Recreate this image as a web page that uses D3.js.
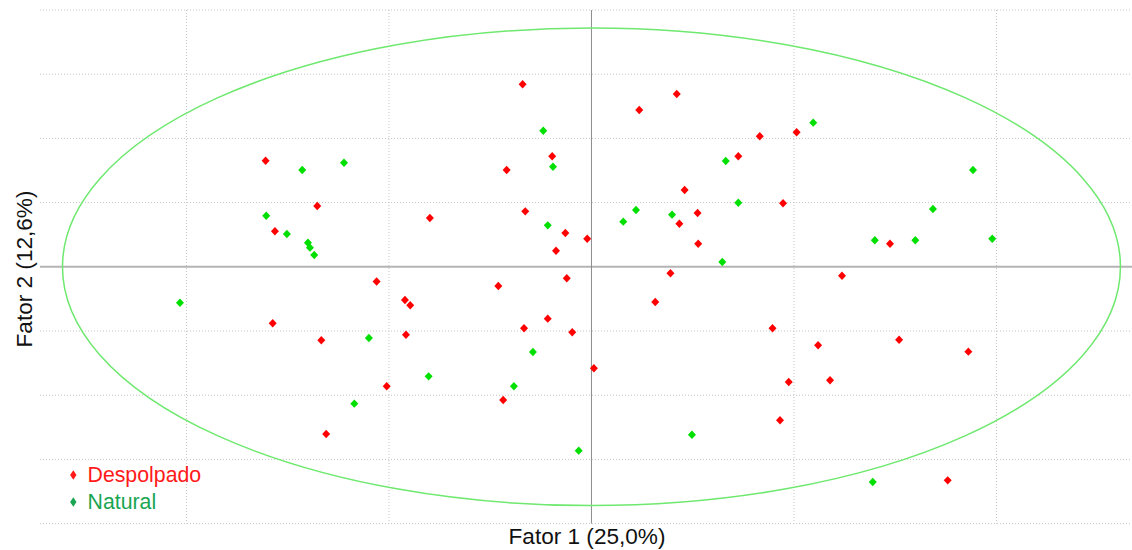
<!DOCTYPE html>
<html>
<head>
<meta charset="utf-8">
<script src="https://cdn.jsdelivr.net/npm/d3@7"></script>
<style>
  html, body { margin: 0; padding: 0; background: #ffffff; }
  svg { display: block; font-family: Arial, "Liberation Sans", sans-serif; }
</style>
</head>
<body>
<svg id="chart" width="1132" height="550"></svg>
<script>
// ---- Data (PCA scores, in grid units) ----
const despolpadoX = [-1.609,-1.354,-1.563,-1.061,-0.340,0.421,0.236,0.831,-0.194,0.725,-0.419,0.460,-0.798,-0.327,0.524,0.434,-0.129,-0.021,0.527,-0.175,0.390,-0.122,1.013,0.946,1.474,1.237,-1.574,-1.334,-1.011,-1.310,-0.460,-0.921,-0.895,0.315,-0.216,-0.333,-0.095,-0.916,0.894,0.012,-0.436,0.931,1.119,1.519,1.861,0.974,1.178,1.759];
const despolpadoY = [1.653,0.947,0.553,-0.229,2.843,2.692,2.442,2.033,1.721,1.721,1.508,1.196,0.760,0.864,0.838,0.671,0.526,0.438,0.360,0.251,-0.101,-0.179,2.095,0.989,0.360,-0.139,-0.880,-1.145,-1.861,-2.604,-0.299,-0.517,-0.600,-0.548,-0.808,-0.958,-1.020,-1.058,-0.958,-1.581,-2.075,-2.391,-1.223,-1.136,-1.322,-1.794,-1.768,-3.326];
const naturalX = [-1.428,-1.222,-1.606,-1.504,-1.400,-1.390,-1.369,-0.238,0.663,-0.190,0.725,0.220,0.398,0.157,-0.216,0.646,1.095,1.884,1.686,1.399,1.599,1.979,-2.032,-1.099,-1.171,-0.804,-0.289,-0.383,0.496,-0.063,1.389];
const naturalY = [1.508,1.621,0.796,0.511,0.375,0.298,0.184,2.120,1.648,1.559,0.998,0.885,0.812,0.703,0.646,0.075,2.245,1.508,0.900,0.413,0.413,0.438,-0.559,-1.109,-2.132,-1.706,-1.327,-1.861,-2.615,-2.864,-3.352];
const xTicks = [-2,-1,0,1,2];
const yTicks = [-4,-3,-2,-1,0,1,2,3,4];
const ellipseRadii = [2.612, 3.72];
const seriesNames = ["Despolpado", "Natural"];
const xLabel = "Fator 1 (25,0%)";
const yLabel = "Fator 2 (12,6%)";

// ---- Layout ----
const svg = d3.select("#chart");
const x = d3.scaleLinear().domain([-2.723, 2.669]).range([40, 1132]);
const y = d3.scaleLinear().domain([-4, 4]).range([523.6, 10]);

const markerColors = ["#ff0000", "#00e000"];
const legendColors = ["#ff1a1a", "#1aa552"];

// Grid
const grid = svg.append("g");
grid.selectAll("line.h").data(yTicks.filter(d => d !== 0)).join("line")
  .attr("x1", x.range()[0]).attr("x2", x.range()[1])
  .attr("y1", d => y(d)).attr("y2", d => y(d))
  .attr("stroke", "#c4c4c4").attr("stroke-width", 1).attr("stroke-dasharray", "1,2");
grid.selectAll("line.v").data(xTicks.filter(d => d !== 0)).join("line")
  .attr("y1", y(4)).attr("y2", y(-4))
  .attr("x1", d => x(d)).attr("x2", d => x(d))
  .attr("stroke", "#c4c4c4").attr("stroke-width", 1).attr("stroke-dasharray", "1,2");

// Axes through origin
svg.append("line")
  .attr("x1", x.range()[0]).attr("x2", x.range()[1])
  .attr("y1", y(0)).attr("y2", y(0))
  .attr("stroke", "#b4b4b4").attr("stroke-width", 2);
svg.append("line")
  .attr("x1", x(0)).attr("x2", x(0))
  .attr("y1", y(4)).attr("y2", y(-4))
  .attr("stroke", "#8c8c8c").attr("stroke-width", 1);

// Ellipse
svg.append("ellipse")
  .attr("cx", x(0)).attr("cy", y(0))
  .attr("rx", x(ellipseRadii[0]) - x(0))
  .attr("ry", y(0) - y(ellipseRadii[1]))
  .attr("fill", "none").attr("stroke", "#6ee86e").attr("stroke-width", 1.5);

// Markers
function diamond(cx, cy, w, h) {
  return `M${cx},${cy - h}L${cx + w},${cy}L${cx},${cy + h}L${cx - w},${cy}Z`;
}
const series = [
  despolpadoX.map((v, i) => ({x: v, y: despolpadoY[i]})),
  naturalX.map((v, i) => ({x: v, y: naturalY[i]}))
];
series.forEach((pts, si) => {
  svg.append("g").selectAll("path").data(pts).join("path")
    .attr("d", d => diamond(x(d.x), y(d.y), 4, 4.2))
    .attr("fill", markerColors[si]);
});

// Legend
const legend = svg.append("g");
seriesNames.forEach((name, i) => {
  const ly = 475 + i * 27;
  legend.append("path").attr("d", diamond(73.3, ly, 3.2, 4.8)).attr("fill", legendColors[i]);
  legend.append("text").attr("x", 87.5).attr("y", ly + 7)
    .attr("font-size", 21.3).attr("fill", legendColors[i]).text(name);
});

// Axis labels
svg.append("text").attr("x", 587).attr("y", 543.5).attr("text-anchor", "middle")
  .attr("font-size", 22.6).attr("fill", "#111").text(xLabel);
svg.append("text").attr("transform", "translate(32,269) rotate(-90)")
  .attr("text-anchor", "middle").attr("font-size", 22.6).attr("fill", "#111").text(yLabel);
</script>
</body>
</html>
